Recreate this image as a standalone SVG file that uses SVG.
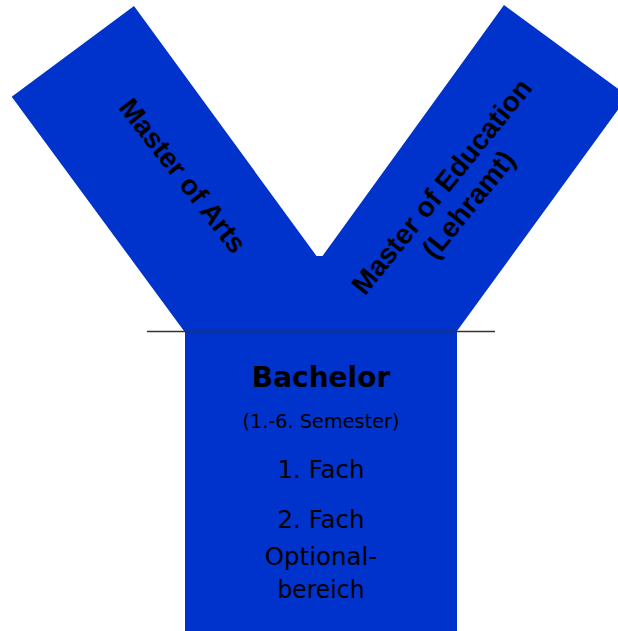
<svg xmlns="http://www.w3.org/2000/svg" width="618" height="631" viewBox="0 0 618 631">
<style>
.shape{fill:#0033CC;}
.arm{font-family:"Liberation Sans",Arial,sans-serif;font-weight:bold;font-size:28px;fill:#000;text-anchor:middle;}
.bt{font-family:"DejaVu Sans",Tahoma,sans-serif;fill:#000;text-anchor:middle;}
</style>
<g id="shape">
<polygon class="shape" points="134,6 316.5,256 322.5,256 504,5 628,96 457,331 457,631 185,631 185,331 184,331 11.7,96.7"/>
</g>
<g id="connectors">
<line x1="147" y1="331.5" x2="495" y2="331.5" stroke="#333" stroke-width="1.3"/>
</g>
<g id="master-arts">
<text class="arm" transform="translate(175.5,181.5) rotate(52)" x="0" y="0">Master of Arts</text>
</g>
<g id="master-education">
<g transform="translate(449.2,192.5) rotate(-51)">
<text class="arm" x="0" y="0">Master of Education</text>
<text class="arm" x="3" y="32">(Lehramt)</text>
</g>
</g>
<g id="bachelor">
<text class="bt" x="321" y="386.7" font-size="28" font-weight="bold">Bachelor</text>
<text class="bt" x="321" y="428.3" font-size="20" textLength="157" lengthAdjust="spacingAndGlyphs">(1.-6. Semester)</text>
<text class="bt" x="321" y="478.3" font-size="24.5">1. Fach</text>
<text class="bt" x="321" y="528.3" font-size="24.5">2. Fach</text>
<text class="bt" x="321" y="565" font-size="24.5">Optional-</text>
<text class="bt" x="321" y="598.3" font-size="24.5" textLength="87" lengthAdjust="spacingAndGlyphs">bereich</text>
</g>
</svg>
